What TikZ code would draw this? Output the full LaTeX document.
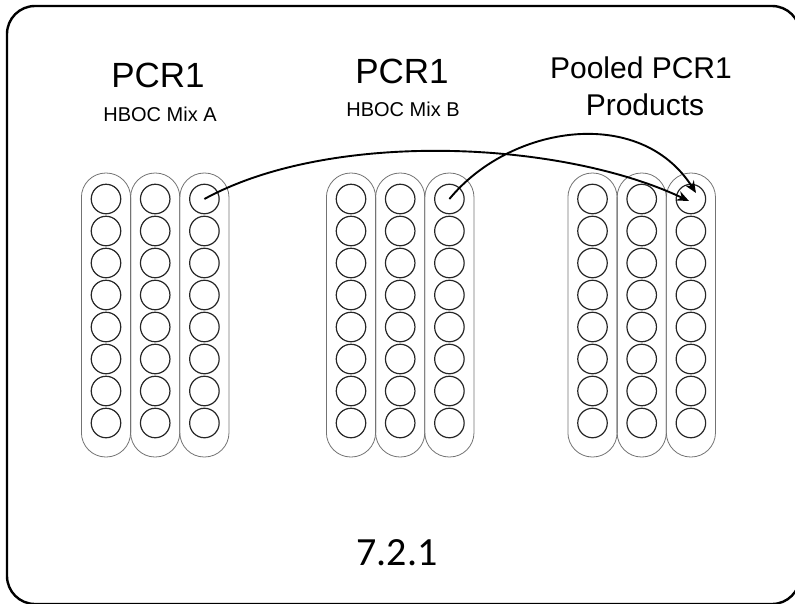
\documentclass[tikz,border=0pt]{standalone}
\usepackage{fontspec}
\setmainfont{Liberation Sans}
\newfontfamily\numfont{Carlito}
\usetikzlibrary{arrows.meta}
\tikzset{
  well/.style={circle, draw=black!85, line width=1.2pt, minimum size=29.5pt, inner sep=0pt},
  strip/.style={draw=black!55, line width=0.8pt, rounded corners=24.4pt},
  frame/.style={draw=black, line width=2.4pt, rounded corners=28pt},
  link/.style={draw=black, line width=1.9pt, -{Stealth[length=12pt,width=10pt]}},
  bigt/.style={anchor=base, inner sep=0pt, font=\fontsize{35}{40}\selectfont},
  midt/.style={anchor=base, inner sep=0pt, font=\fontsize{30}{36}\selectfont},
  smallt/.style={anchor=base, inner sep=0pt, font=\fontsize{20}{24}\selectfont},
  numt/.style={anchor=base, inner sep=0pt, font=\numfont\fontsize{40}{46}\selectfont}
}
\begin{document}
\begin{tikzpicture}[x=1pt, y=-1pt]
\useasboundingbox (0,0) rectangle (795,603);
\clip (0,0) rectangle (795,603);
\draw[frame] (7,6) rectangle (800,604);
% plates
\foreach \p/\xa in {a/106, b/351, c/592.5}{
  \foreach \c in {1,2,3}{
    \pgfmathsetmacro{\xx}{\xa+(\c-1)*49.2}
    \draw[strip] (\xx-24.6,173) rectangle (\xx+24.6,457);
    \foreach \r in {1,...,8}{
      \node[well] (\p\c\r) at (\xx,{199+(\r-1)*32}) {};
    }
  }
}
% titles
\node[bigt] (ta) at (158,87) {PCR1};
\node[smallt] (sa) at (160,121) {HBOC Mix A};
\node[bigt] (tb) at (402,83) {PCR1};
\node[smallt] (sb) at (403,116) {HBOC Mix B};
\node[midt] (tc1) at (641,78) {Pooled PCR1};
\node[midt] (tc2) at (645,115) {Products};
\node[numt] (num) at (397,565) {7.2.1};
% arrows
\coordinate (tip1) at (689,201);
\coordinate (tip2) at (696,193);
\draw[link] (a31.center) .. controls (330,130) and (560,140) .. (tip1);
\draw[link] (b31.center) .. controls (510,125) and (640,105) .. (tip2);
\end{tikzpicture}
\end{document}
